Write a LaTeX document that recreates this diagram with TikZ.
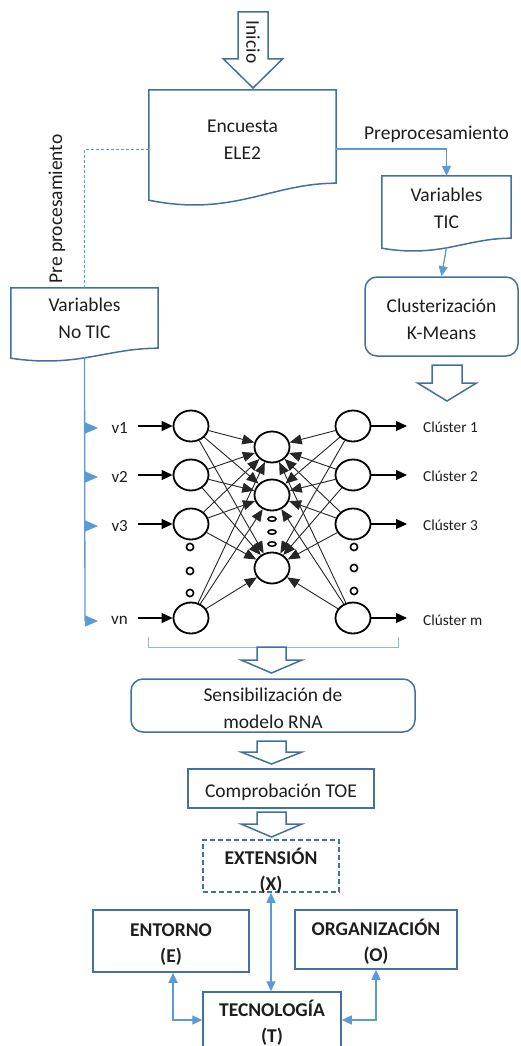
\documentclass[tikz,border=0pt]{standalone}
\usepackage{fontspec}
\setmainfont{Carlito}
\usetikzlibrary{arrows.meta,calc,shapes.geometric}

\definecolor{boxblue}{HTML}{41719C}
\definecolor{linkblue}{HTML}{5B9BD5}
\definecolor{inkgray}{HTML}{1E1E1E}

% document shape: straight top and sides, wavy bottom edge
\newcommand\wavedoc[2]{%
  \draw[boxline] let \p1=(#1.south west), \p2=(#1.north east) in
    (\x1,\y1-#2pt) -- (\x1,\y2) -- (\x2,\y2) -- (\x2,\y1)
    .. controls (\x2-0.35*\x2+0.35*\x1,\y1) and (\x2-0.55*\x2+0.55*\x1,\y1-2*#2pt) ..
    (\x1,\y1-#2pt) -- cycle;}

% hollow block arrow pointing down: centre x, top, head start, tip, shaft half-width, head half-width
\newcommand\blockdown[6]{%
  \draw[bigarrow] ({#1-#5},#2) -- ({#1+#5},#2) -- ({#1+#5},#3) -- ({#1+#6},#3)
    -- (#1,#4) -- ({#1-#6},#3) -- ({#1-#5},#3) -- cycle;}

\begin{document}
\begin{tikzpicture}[x=1pt,y=-1pt,
  txt/.style={font=\fontsize{19.5}{27}\selectfont, text=inkgray, align=center},
  boldtxt/.style={txt, font=\fontsize{19.5}{26}\selectfont\bfseries},
  box/.style={draw=boxblue, line width=1.5pt, fill=white, inner sep=0pt},
  rbox/.style={box, rounded corners=12pt},
  docbox/.style={inner sep=0pt},
  boxline/.style={draw=boxblue, line width=1.5pt, fill=white, line join=miter},
  bigarrow/.style={draw=boxblue, line width=1.5pt, fill=white, line join=miter},
  link/.style={draw=linkblue, line width=1.3pt},
  conn/.style={link, -{Triangle[length=10pt,width=9pt]}},
  biconn/.style={link, {Triangle[length=10pt,width=9pt]}-{Triangle[length=10pt,width=9pt]}},
  neuron/.style={draw=black, line width=1.8pt, ellipse, minimum width=35pt, minimum height=31pt, inner sep=0pt, fill=white},
  syn/.style={draw=black!85, line width=0.9pt, -{Triangle[length=12pt,width=10pt]}},
  ioarrow/.style={draw=black, line width=1.1pt, -{Triangle[length=11pt,width=10pt]}},
  vlabel/.style={font=\fontsize{17}{20}\selectfont, text=inkgray, inner xsep=10pt, inner ysep=0pt},
  clabel/.style={font=\fontsize{15.3}{18}\selectfont, text=inkgray, inner xsep=16pt, inner ysep=0pt},
  dotring/.style={draw=black, line width=1.6pt},
]
\useasboundingbox (0,0) rectangle (520,1046);
\fill[white] (0,0) rectangle (520,1046);
\clip (0,0) rectangle (520,1046);

% start arrow
\blockdown{253}{12}{59}{88}{15}{29.5}
\node[txt, rotate=-90] (ini) at (253,42) {Inicio};

% survey and the two variable groups
\node[docbox, minimum width=187pt, minimum height=93pt] (enc) at (242.5,136.5) {};
\wavedoc{enc}{17}
\node[txt] (encT) at (242.5,140) {Encuesta\\ELE2};

\node[docbox, minimum width=129pt, minimum height=62pt] (tic) at (446.5,207) {};
\wavedoc{tic}{10}
\node[txt] (ticT) at (446.5,208) {Variables\\TIC};

\node[docbox, minimum width=147pt, minimum height=60pt] (notic) at (84.5,318) {};
\wavedoc{notic}{10}
\node[txt] (noticT) at (84.5,318) {Variables\\No TIC};

\node[rbox, minimum width=153pt, minimum height=79pt] (clus) at (441.5,316.5) {};
\node[txt] (clusT) at ($(clus)+(0,2.5)$) {Clusterización\\K-Means};

% preprocessing paths
\draw[conn] ($(enc.east)+(0,12.5)$) -| (tic.north);
\node[txt] (pre) at (436.5,134) {Preprocesamiento};
\draw[link, line width=1pt, dash pattern=on 3pt off 2pt] ($(enc.west)+(0,12.5)$) -| (notic.north);
\node[txt, rotate=90] (prel) at (57,209) {Pre procesamiento};
\draw[conn] ($(tic.south)+(0,9)$) -- (clus.north);

\blockdown{447}{365}{383}{401}{15}{29.5}

% neural network
\foreach \i/\y in {1/426,2/475,3/524,n/618} {
  \node[neuron] (in\i) at (191,\y) {};
  \node[neuron] (out\i) at (353,\y) {};
}
\node[neuron] (h1) at (272,447) {};
\node[neuron] (h2) at (272,495) {};
\node[neuron] (h3) at (272,568) {};
\foreach \a in {1,2,3,n} \foreach \b in {1,2,3} {
  \draw[syn] (in\a) -- (h\b);
  \draw[syn] (out\a) -- (h\b);
}
\foreach \y in {547,571,593} \draw[dotring] (190,\y) circle (3.6pt);
\foreach \y in {547,568,591} \draw[dotring] (354,\y) circle (3.6pt);
\foreach \y in {519,532,544} \draw[dotring] (272,\y) ellipse (4pt and 2.2pt);

% inputs
\foreach \i/\t/\y in {1/v1/428,2/v2/477,3/v3/526,n/vn/620} {
  \node[vlabel, anchor=east] (lv\i) at (138,\y) {\t};
  \draw[ioarrow] (in\i -| lv\i.east) -- (in\i.west);
}
% outputs
\foreach \i/\t/\y in {1/1/427,2/2/476,3/3/525,n/m/620} {
  \node[clabel, anchor=west] (lc\i) at (407,\y) {Clúster \t};
  \draw[ioarrow] (out\i.east) -- (out\i -| lc\i.west);
}

% input spine from the non-ICT variables
\coordinate (sp1) at (85,428);
\coordinate (sp2) at (85,477);
\coordinate (sp3) at (85,526);
\coordinate (spn) at (85,621);
\draw[link] ($(notic.south)+(0,9)$) -- (spn);
\foreach \i in {1,2,3,n}
  \draw[link, -{Triangle[length=13pt,width=11pt]}] (sp\i) -- ++(13,0);

% bracket under the network
\draw[draw=linkblue!70, line width=1pt] (148,637) -- (148,647) -- (398,647) -- (398,637);

\blockdown{271.5}{647}{660}{673}{14.5}{30.5}
\node[rbox, minimum width=284pt, minimum height=53pt] (sens) at (273,705.5) {};
\node[txt] (sensT) at ($(sens)+(0,2.5)$) {Sensibilización de\\modelo RNA};
\blockdown{271.5}{741}{752}{764}{14.5}{30.5}
\node[box, minimum width=186pt, minimum height=39pt] (comp) at (281,788.5) {};
\node[txt] (compT) at ($(comp)+(0,3.5)$) {Comprobación TOE};
\blockdown{271.5}{812}{824}{837}{14.5}{30.5}

% TOE framework
\node[box, dash pattern=on 5pt off 3pt, minimum width=136pt, minimum height=52pt] (ext) at (271,866) {};
\node[boldtxt] (extT) at ($(ext)+(0,4.5)$) {EXTENSIÓN\\(X)};
\node[box, minimum width=156pt, minimum height=62pt] (ent) at (171,941) {};
\node[boldtxt] (entT) at ($(ent)+(0,3.5)$) {ENTORNO\\(E)};
\node[box, minimum width=162pt, minimum height=59pt] (org) at (376,939.5) {};
\node[boldtxt] (orgT) at ($(org)+(0,2)$) {ORGANIZACIÓN\\(O)};
\node[box, minimum width=138pt, minimum height=56pt] (tec) at (272,1020) {};
\node[boldtxt] (tecT) at ($(tec)+(0,2.5)$) {TECNOLOGÍA\\(T)};

\draw[biconn] (ext.south) -- (ext.south |- tec.north);
\draw[biconn] ($(ent.south)+(2,0)$) |- (tec.west);
\draw[biconn] (org.south) |- (tec.east);
\end{tikzpicture}
\end{document}
